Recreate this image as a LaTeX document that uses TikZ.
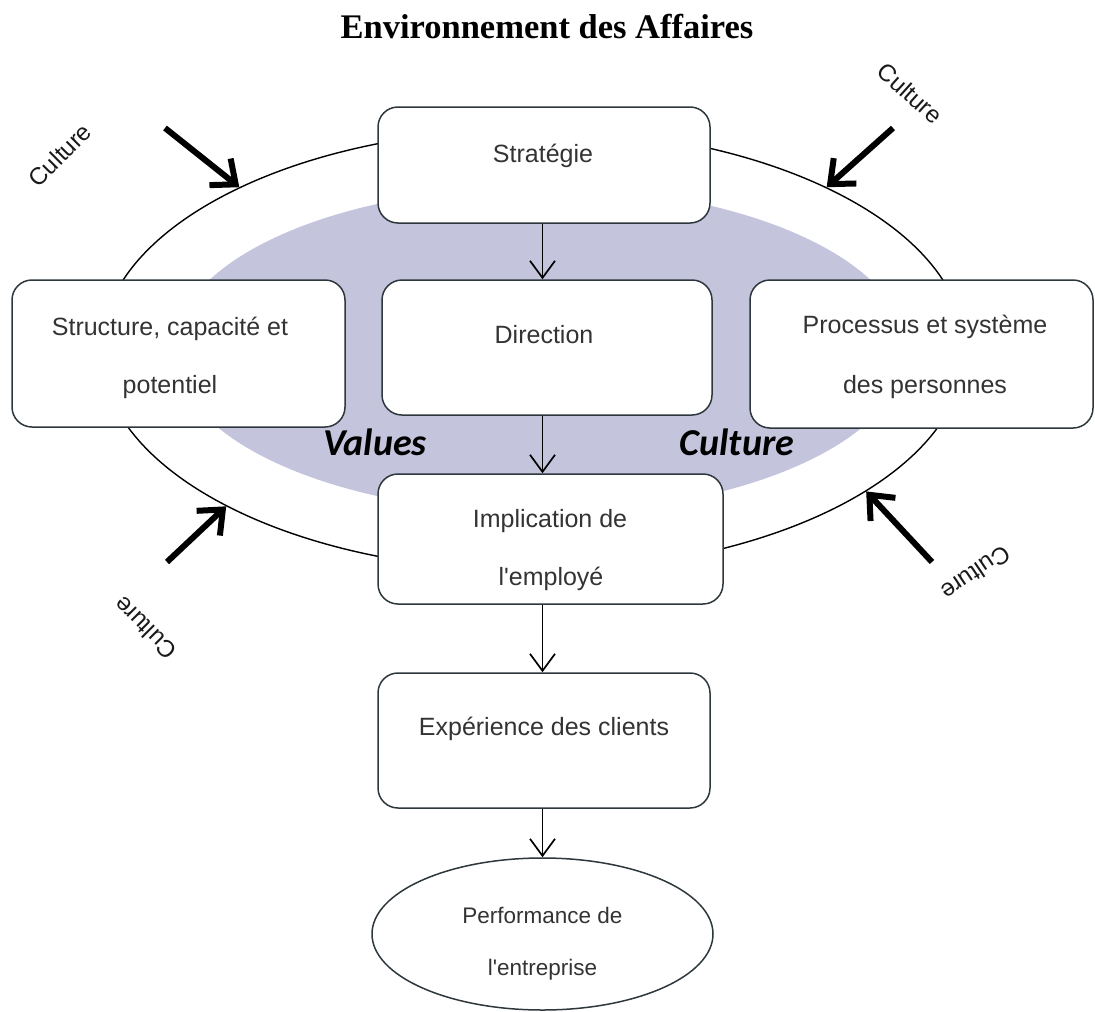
\documentclass[tikz,border=0pt]{standalone}
\usepackage{fontspec}
\setmainfont{Liberation Sans}[Ligatures=TeXOff]
\newfontfamily\titlefont{Liberation Serif}
\newfontfamily\calfont{Carlito}
\usetikzlibrary{arrows.meta,shapes.geometric}
\definecolor{lav}{RGB}{196,197,221}
\definecolor{edgec}{RGB}{45,55,60}
\begin{document}
\begin{tikzpicture}[x=1pt,y=-1pt,
  box/.style={draw=edgec,line width=1.5pt,fill=white,rounded corners=20pt,inner sep=0pt},
  btxt/.style={font=\fontsize{25}{30}\selectfont,text=black!80,anchor=base,inner sep=0pt},
  ptxt/.style={font=\fontsize{22.5}{27}\selectfont,text=black!80,anchor=base,inner sep=0pt},
  cul/.style={font=\fontsize{24}{28}\selectfont,text=black!90,inner sep=0pt},
  vc/.style={font=\calfont\bfseries\itshape\fontsize{38}{44}\selectfont,text=black,anchor=base,inner sep=0pt},
  conn/.style={draw=black,line width=1.7pt,-{Straight Barb[length=17pt,width=25pt]}},
  force/.style={draw=black,line width=6pt,-{Straight Barb[length=20pt,width=34pt]}}
]
\useasboundingbox (0,0) rectangle (1095,1012);

% title
\node[font=\titlefont\bfseries\fontsize{34.5}{40}\selectfont,anchor=base,inner sep=0pt] (title) at (547,38) {Environnement des Affaires};

% ellipses
\node[ellipse,fill=lav,minimum width=732pt,minimum height=326pt,inner sep=0pt] (core) at (540,350) {};
\node[ellipse,draw=black,line width=1.4pt,minimum width=864pt,minimum height=442pt,inner sep=0pt] (env) at (533,350) {};

% boxes
\node[box,minimum width=332pt,minimum height=116pt] (strat) at (544,165) {};
\node[box,minimum width=333pt,minimum height=147pt] (struct) at (178.5,353.5) {};
\node[box,minimum width=330pt,minimum height=135pt] (dir) at (547,347.5) {};
\node[box,minimum width=343pt,minimum height=148pt] (proc) at (921.5,354) {};
\node[box,minimum width=345pt,minimum height=130pt] (impl) at (550.5,539) {};
\node[box,minimum width=332pt,minimum height=135pt] (exp) at (544,740.5) {};
\node[ellipse,draw=edgec,line width=1.5pt,fill=white,minimum width=341pt,minimum height=152pt,inner sep=0pt] (perf) at (542.5,934) {};

% texts
\node[btxt] (tstrat) at (543,162) {Stratégie};
\node[btxt] (tstructa) at (170,335) {Structure, capacité et};
\node[btxt] (tstructb) at (170,393) {potentiel};
\node[btxt] (tdir) at (544,343) {Direction};
\node[btxt] (tproca) at (925,333) {Processus et système};
\node[btxt] (tprocb) at (925,393) {des personnes};
\node[btxt] (timpla) at (550,527) {Implication de};
\node[btxt] (timplb) at (551,585) {l'employé};
\node[btxt] (texp) at (544,735) {Expérience des clients};
\node[ptxt] (tperfa) at (542.5,923) {Performance de};
\node[ptxt] (tperfb) at (542.5,975) {l'entreprise};

\node[vc] (values) at (375,455) {Values};
\node[vc] (culture) at (737,455) {Culture};

% connectors
\draw[conn] (strat.south -| perf.north) -- (dir.north -| perf.north);
\draw[conn] (dir.south -| perf.north) -- (impl.north -| perf.north);
\draw[conn] (impl.south -| perf.north) -- (exp.north -| perf.north);
\draw[conn] (exp.south -| perf.north) -- (perf.north);

% culture forces
\coordinate (ftl) at (165,128);
\coordinate (ftr) at (893,128);
\coordinate (fbl) at (167,562);
\coordinate (fbr) at (932,562);
\draw[force] (ftl) -- (env.151);
\draw[force] (ftr) -- (env.29);
\draw[force] (fbl) -- (env.207);
\draw[force] (fbr) -- (env.337.6);

\node[cul,rotate=45] (ctl) at (60,155) {Culture};
\node[cul,rotate=-42] (ctr) at (910,93) {Culture};
\node[cul,rotate=135] (cbl) at (145,628) {Culture};
\node[cul,rotate=214] (cbr) at (976,573) {Culture};
\end{tikzpicture}
\end{document}
